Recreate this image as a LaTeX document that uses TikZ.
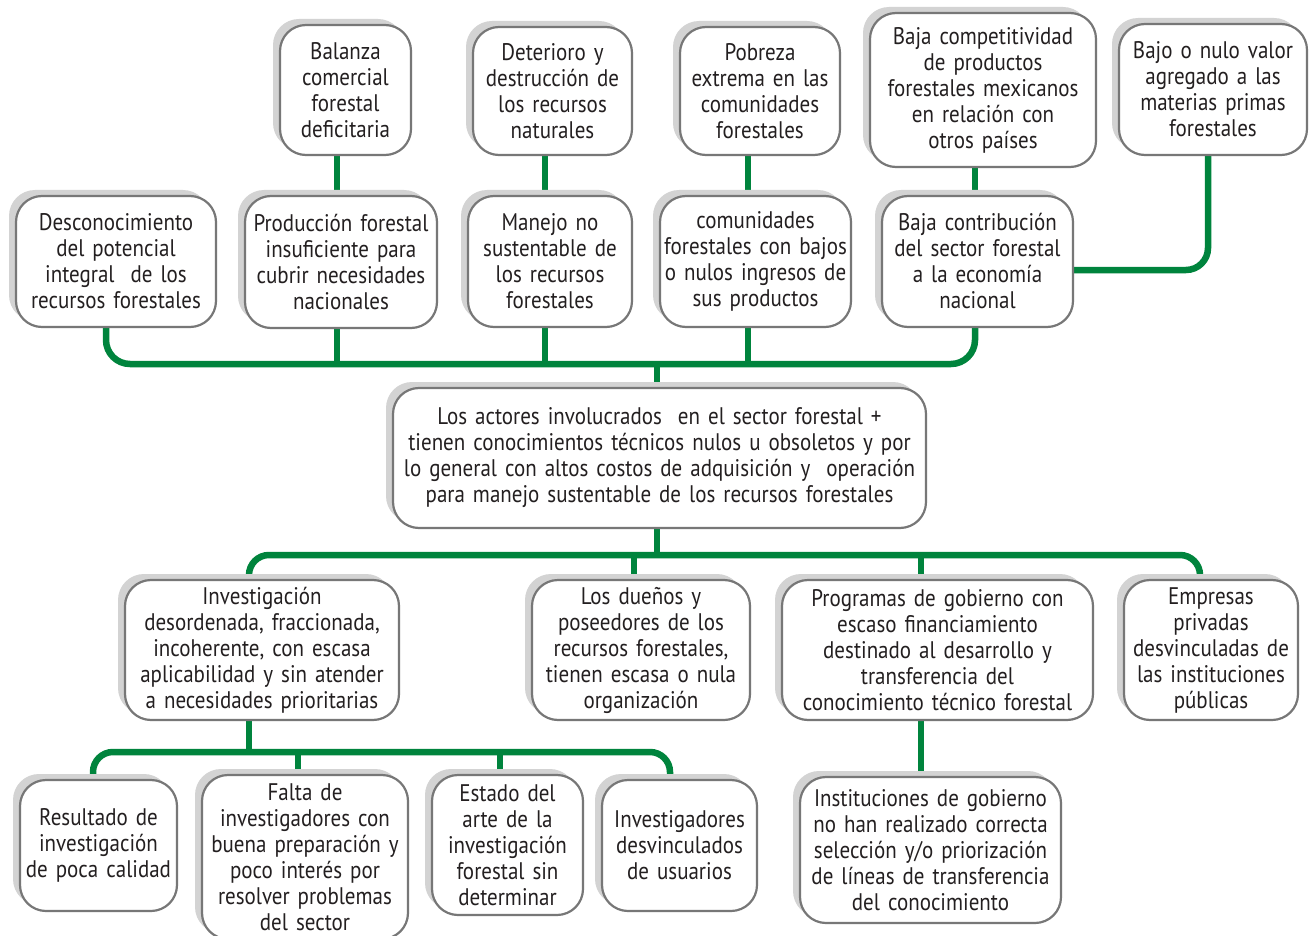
\documentclass[tikz,border=0pt]{standalone}
\usepackage{fontspec}
\setmainfont{PT Sans}[FakeStretch=0.875, WordSpace=0.8]
\usetikzlibrary{shadows,backgrounds}
\definecolor{conngreen}{HTML}{00843D}
\definecolor{boxline}{HTML}{777777}
\definecolor{shadowgray}{HTML}{D3D3D3}
\definecolor{txt}{HTML}{231F20}
\tikzset{
  box/.style={draw=boxline, line width=2.2pt, fill=white, rounded corners=26pt,
    align=center, inner sep=0pt, text=txt,
    font=\fontsize{24}{26}\selectfont,
    general shadow={fill=shadowgray, shadow xshift=-7pt, shadow yshift=6pt}},
  conn/.style={draw=conngreen, line width=6.5pt}
}
\begin{document}
\begin{tikzpicture}[x=1pt,y=-1pt]
\useasboundingbox (0,0) rectangle (1309,936);
% top row
\node[box, minimum width=131pt, minimum height=130pt, text width=125pt] (bal) at (345.5,90) {Balanza\\comercial\\forestal\\deficitaria};
\node[box, minimum width=159pt, minimum height=128pt, text width=153pt] (det) at (552.5,91) {Deterioro y\\destrucción de\\los recursos\\naturales};
\node[box, minimum width=160pt, minimum height=128pt, text width=154pt] (pob) at (760,91) {Pobreza\\extrema en las\\comunidades\\forestales};
\node[box, minimum width=226pt, minimum height=154pt, text width=220pt] (comp) at (983,90) {Baja competitividad\\de productos\\forestales mexicanos\\en relación con\\otros países};
\node[box, minimum width=188pt, minimum height=131pt, text width=182pt] (bajo) at (1213,89.5) {Bajo o nulo valor\\agregado a las\\materias primas\\forestales};
% second row
\node[box, minimum width=200pt, minimum height=131pt, text width=194pt] (des) at (116,261.5) {Desconocimiento\\del potencial\\integral\ \ de los\\recursos forestales};
\node[box, minimum width=192pt, minimum height=132pt, text width=186pt] (pro) at (341,262) {Producción forestal\\insuficiente para\\cubrir necesidades\\nacionales};
\node[box, minimum width=164pt, minimum height=131pt, text width=158pt] (man) at (550,261.5) {Manejo no\\sustentable de\\los recursos\\forestales};
\node[box, minimum width=191pt, minimum height=131pt, text width=185pt] (com) at (755.5,261.5) {comunidades\\forestales con bajos\\o nulos ingresos de\\sus productos};
\node[box, minimum width=191pt, minimum height=131pt, text width=185pt] (con) at (977.5,261.5) {Baja contribución\\del sector forestal\\a la economía\\nacional};
% central
\node[box, minimum width=533pt, minimum height=140pt, text width=527pt] (cen) at (659.5,458) {Los actores involucrados\ \ en el sector forestal +\\tienen conocimientos técnicos nulos u obsoletos y por\\lo general con altos costos de adquisición y\ \ operación\\para manejo sustentable de los recursos forestales};
% third row
\node[box, minimum width=274pt, minimum height=140pt, text width=268pt] (inv) at (262,650) {Investigación\\desordenada, fraccionada,\\incoherente, con escasa\\aplicabilidad y sin atender\\a necesidades prioritarias};
\node[box, minimum width=218pt, minimum height=140pt, text width=212pt] (due) at (641,650) {Los dueños y\\poseedores de los\\recursos forestales,\\tienen escasa o nula\\organización};
\node[box, minimum width=311pt, minimum height=140pt, text width=305pt] (prog) at (937.5,650) {Programas de gobierno con\\escaso financiamiento\\destinado al desarrollo y\\transferencia del\\conocimiento técnico forestal};
\node[box, minimum width=174pt, minimum height=140pt, text width=168pt] (emp) at (1211,650) {Empresas\\privadas\\desvinculadas de\\las instituciones\\públicas};
% fourth row
\node[box, minimum width=157pt, minimum height=131pt, text width=151pt] (res) at (98.5,845.5) {Resultado de\\investigación\\de poca calidad};
\node[box, minimum width=206pt, minimum height=164pt, text width=200pt] (fal) at (305,857) {Falta de\\investigadores con\\buena preparación y\\poco interés por\\resolver problemas\\del sector};
\node[box, minimum width=151pt, minimum height=140pt, text width=145pt] (est) at (507.5,845) {Estado del\\arte de la\\investigación\\forestal sin\\determinar};
\node[box, minimum width=155pt, minimum height=131pt, text width=149pt] (isd) at (679.5,845.5) {Investigadores\\desvinculados\\de usuarios};
\node[box, minimum width=261pt, minimum height=146pt, text width=255pt] (ins) at (930.5,850) {Instituciones de gobierno\\no han realizado correcta\\selección y/o priorización\\de líneas de transferencia\\del conocimiento};
% connectors
\coordinate (tb) at (657,364);
\coordinate (mb) at (657,555);
\coordinate (bb) at (249,752);
\begin{pgfonlayer}{background}
\fill[white] (0,0) rectangle (1309,936);
\draw[conn] ([xshift=-8.5pt]bal.south) -- ([xshift=-4pt]pro.north);
\draw[conn] ([xshift=-7.5pt]det.south) -- ([xshift=-5pt]man.north);
\draw[conn] ([xshift=-12pt]pob.south) -- ([xshift=-7.5pt]com.north);
\draw[conn] ([xshift=-8pt]comp.south) -- ([xshift=-2.5pt]con.north);
\draw[conn, rounded corners=22pt] ([xshift=-5pt]bajo.south) |- ([yshift=-8.5pt]con.east);
\draw[conn, rounded corners=24pt] ([xshift=-10pt]des.south) |- (tb) -| ([xshift=-2.5pt]con.south);
\draw[conn] ([xshift=-4pt]pro.south) -- ([xshift=-4pt]pro.south |- tb);
\draw[conn] ([xshift=-5pt]man.south) -- ([xshift=-5pt]man.south |- tb);
\draw[conn] ([xshift=-7.5pt]com.south) -- ([xshift=-7.5pt]com.south |- tb);
\draw[conn] (tb) -- ([xshift=-2.5pt]cen.north);
\draw[conn] ([xshift=-2.5pt]cen.south) -- (mb);
\draw[conn, rounded corners=20pt] ([xshift=-13pt]inv.north) |- (mb) -| ([xshift=-11pt]emp.north);
\draw[conn] ([xshift=-7pt]due.north) -- ([xshift=-7pt]due.north |- mb);
\draw[conn] ([xshift=-16.5pt]prog.north) -- ([xshift=-16.5pt]prog.north |- mb);
\draw[conn] ([xshift=-16.5pt]prog.south) -- ([xshift=-9.5pt]ins.north);
\draw[conn] ([xshift=-13pt]inv.south) -- (bb);
\draw[conn, rounded corners=20pt] ([xshift=-5.5pt]res.north) |- (bb) -| ([xshift=-9.5pt]isd.north);
\draw[conn] ([xshift=-7pt]fal.north) -- ([xshift=-7pt]fal.north |- bb);
\draw[conn] ([xshift=-7.5pt]est.north) -- ([xshift=-7.5pt]est.north |- bb);
\end{pgfonlayer}
\end{tikzpicture}
\end{document}
